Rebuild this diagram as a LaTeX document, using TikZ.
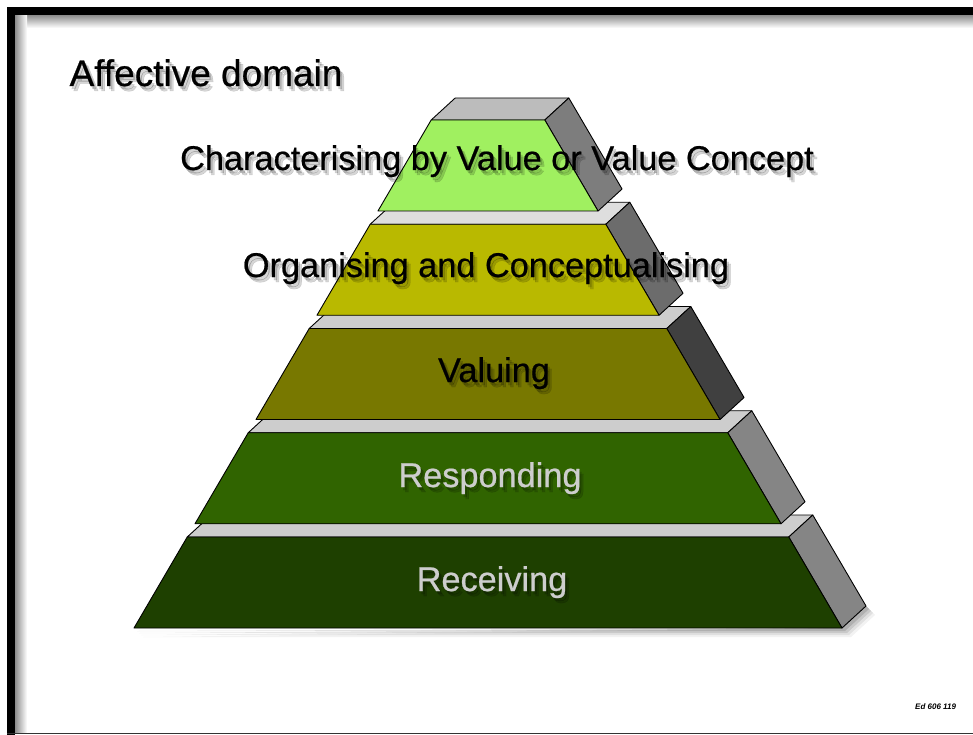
\documentclass[tikz,border=0pt]{standalone}
\usepackage{fontspec}
\setmainfont{Liberation Sans}
\newfontfamily\lblfont{Liberation Sans}[FakeBold=0.6]
\definecolor{fc5}{RGB}{160,240,96}
\definecolor{fc4}{RGB}{185,185,0}
\definecolor{fc3}{RGB}{120,120,0}
\definecolor{fc2}{RGB}{48,100,0}
\definecolor{fc1}{RGB}{30,64,0}
\definecolor{sc5}{RGB}{125,125,125}
\definecolor{sc4}{RGB}{108,108,108}
\definecolor{sc3}{RGB}{64,64,64}
\definecolor{sc2}{RGB}{133,133,133}
\definecolor{sc1}{RGB}{133,133,133}
\definecolor{tc5}{RGB}{188,188,188}
\definecolor{tc4}{RGB}{222,222,222}
\definecolor{tc3}{RGB}{205,205,205}
\definecolor{tc2}{RGB}{205,205,205}
\definecolor{tc1}{RGB}{205,205,205}
\definecolor{lighttext}{RGB}{205,205,205}
\tikzset{
  face/.style={draw=black, line width=0.9pt, line join=round},
  lbl/.style={anchor=base, inner sep=0pt, font=\lblfont\fontsize{34.3}{40}\selectfont},
  lblshadow/.style={lbl, text=black, opacity=0.16},
}
% one level of the pyramid: #1 bottom y of front face, #2 index
\newcommand\pyrlevel[2]{%
  \pgfmathsetmacro\yb{#1}%
  \pgfmathsetmacro\yt{#1-91}%
  \pgfmathsetmacro\ytb{\yt-22}%
  \pgfmathsetmacro\ybb{\yb-22}%
  \pgfmathsetmacro\xlb{134+(628-\yb)*0.585}%
  \pgfmathsetmacro\xrb{842-(628-\yb)*0.585}%
  \pgfmathsetmacro\xlt{134+(628-\yt)*0.585}%
  \pgfmathsetmacro\xrt{842-(628-\yt)*0.585}%
  \pgfmathsetmacro\xltb{\xlt+24}%
  \pgfmathsetmacro\xrtb{\xrt+24}%
  \pgfmathsetmacro\xrbb{\xrb+24}%
  \filldraw[face, fill=tc#2] (\xlt,\yt) -- (\xrt,\yt) -- (\xrtb,\ytb) -- (\xltb,\ytb) -- cycle;
  \filldraw[face, fill=sc#2] (\xrt,\yt) -- (\xrb,\yb) -- (\xrbb,\ybb) -- (\xrtb,\ytb) -- cycle;
  \filldraw[face, fill=fc#2] (\xlb,\yb) -- (\xrb,\yb) -- (\xrt,\yt) -- (\xlt,\yt) -- cycle;
}
% label with soft drop shadow: #1 name, #2 x, #3 baseline y, #4 colour, #5 text
\newcommand\shlabel[5]{%
  \foreach \o in {3,5}{%
    \node[lblshadow] (#1-sh\o) at ({#2+\o-1},{#3+\o}) {#5};
  }%
  \node[lbl, text=#4] (#1) at (#2,#3) {#5};
}
\begin{document}
\begin{tikzpicture}[x=1pt,y=-1pt]
\useasboundingbox (0,0) rectangle (973,735);
\fill[white] (0,0) rectangle (973,735);
% frame
\shade[top color=black!45, bottom color=white] (15,15) rectangle (973,28);
\shade[left color=black!45, right color=white] (15,15) rectangle (27,733);
\fill[black] (7,7) rectangle (973,15);
\fill[black] (7,7) rectangle (15,735);
\draw[black!80, line width=1.5pt] (7,733.5) -- (973,733.5);
% pyramid shadow
\foreach \o/\op in {3/0.12,5/0.10,7/0.07,9/0.05}{
  \fill[black, opacity=\op] ({134+\o},{628+\o}) -- ({842+\o},{628+\o}) -- ({866+\o},{606+\o}) -- ({866},{606}) -- (842,628) -- cycle;
}
% levels bottom to top
\pyrlevel{628}{1}
\pyrlevel{523.75}{2}
\pyrlevel{419.5}{3}
\pyrlevel{315.25}{4}
\pyrlevel{211}{5}
% title
\shlabel{title}{206}{86}{black}{\fontsize{37}{44}\selectfont Affective domain}
% level labels
\shlabel{l5}{497}{170}{black}{Characterising by Value or Value Concept}
\shlabel{l4}{486}{277}{black}{Organising and Conceptualising}
\shlabel{l3}{494}{382}{black}{Valuing}
\shlabel{l2}{490}{487}{lighttext}{Responding}
\shlabel{l1}{492}{591}{lighttext}{Receiving}
% tiny mark bottom right
\node[anchor=base west, inner sep=0pt, font=\fontsize{8}{9}\selectfont\bfseries\itshape] (mark) at (915,709) {Ed 606 119};
\end{tikzpicture}
\end{document}
